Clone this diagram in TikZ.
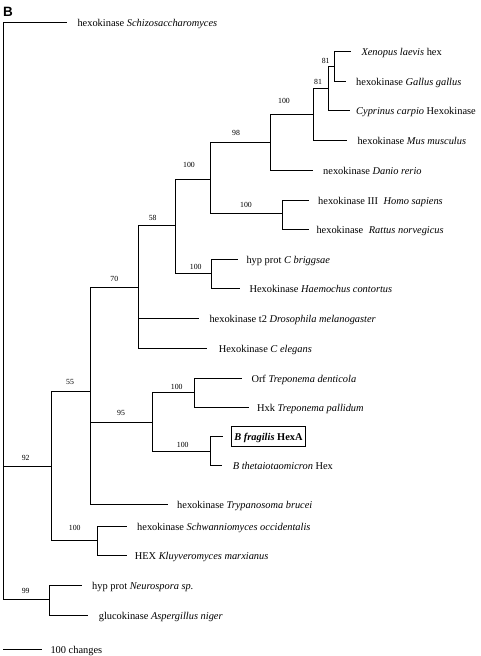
\documentclass[tikz,border=0pt]{standalone}
\usepackage{fontspec}
\setmainfont{Liberation Serif}
\newfontfamily\panelfont{Liberation Sans}
\begin{document}
\begin{tikzpicture}[x=1pt,y=1pt,line width=1pt]
        \tikzstyle{every node}+=[inner sep=0.5pt]
        \tikzstyle{leaf}=[anchor=west, inner sep=0pt, text height=8pt, text depth=0pt, font=\fontsize{10.4}{12}\selectfont]
        \tikzstyle{boot}=[font=\fontsize{7.8}{9}\selectfont]
        \useasboundingbox (0,0) rectangle (480,-656);
        \draw (2.5,-7) node [anchor=north west, inner sep=0pt, font=\panelfont\bfseries\fontsize{13.5}{14}\selectfont] (panel) {B};
        % inner nodes
        \coordinate (root) at (3.3,-466);
        \coordinate (n92) at (51,-466);
        \coordinate (n55) at (90.7,-391.7);
        \coordinate (n70) at (138.3,-287.3);
        \coordinate (n58) at (175,-225.7);
        \coordinate (n100d) at (210.7,-179);
        \coordinate (n98) at (270,-142.7);
        \coordinate (n100m) at (313,-114);
        \coordinate (n81b) at (328,-88);
        \coordinate (n81a) at (334,-66.7);
        \coordinate (n100h) at (282.7,-213.3);
        \coordinate (n100b) at (211.3,-273.3);
        \coordinate (n95) at (152,-422.7);
        \coordinate (n100t) at (194.3,-392.3);
        \coordinate (n100f) at (210.7,-451);
        \coordinate (n100s) at (97.7,-540.7);
        \coordinate (n99) at (49,-599);
        % leaf tips
        \coordinate (schizo) at (67,-22);
        \coordinate (xenopus) at (351,-51.7);
        \coordinate (gallus) at (346,-81);
        \coordinate (cyprinus) at (350,-110.7);
        \coordinate (mus) at (347,-140.7);
        \coordinate (danio) at (313,-170);
        \coordinate (homo) at (309,-200);
        \coordinate (rattus) at (309,-229.3);
        \coordinate (briggsae) at (237.5,-259);
        \coordinate (haemochus) at (240,-288.3);
        \coordinate (drosophila) at (199,-318.3);
        \coordinate (celegans) at (207.3,-348.7);
        \coordinate (orf) at (241.7,-378.3);
        \coordinate (hxk) at (249,-407.3);
        \coordinate (fragilis) at (223,-436.5);
        \coordinate (theta) at (222,-465);
        \coordinate (trypan) at (168.3,-504.3);
        \coordinate (schwann) at (127.3,-526);
        \coordinate (hex) at (127.3,-555.7);
        \coordinate (neuro) at (82.3,-585.3);
        \coordinate (asper) at (88.3,-615.7);
        % branches
        \draw [black] (root) |- (schizo);
        \draw [black] (root) -- (n92);
        \draw [black] (root) |- (n99);
        \draw [black] (n92) |- (n55);
        \draw [black] (n92) |- (n100s);
        \draw [black] (n55) |- (n70);
        \draw [black] (n55) |- (n95);
        \draw [black] (n55) |- (trypan);
        \draw [black] (n70) |- (n58);
        \draw [black] (n70) |- (drosophila);
        \draw [black] (n70) |- (celegans);
        \draw [black] (n58) |- (n100d);
        \draw [black] (n58) |- (n100b);
        \draw [black] (n100d) |- (n98);
        \draw [black] (n100d) |- (n100h);
        \draw [black] (n98) |- (n100m);
        \draw [black] (n98) |- (danio);
        \draw [black] (n100m) |- (n81b);
        \draw [black] (n100m) |- (mus);
        \draw [black] (n81b) |- (n81a);
        \draw [black] (n81b) |- (cyprinus);
        \draw [black] (n81a) |- (xenopus);
        \draw [black] (n81a) |- (gallus);
        \draw [black] (n100h) |- (homo);
        \draw [black] (n100h) |- (rattus);
        \draw [black] (n100b) |- (briggsae);
        \draw [black] (n100b) |- (haemochus);
        \draw [black] (n95) |- (n100t);
        \draw [black] (n95) |- (n100f);
        \draw [black] (n100t) |- (orf);
        \draw [black] (n100t) |- (hxk);
        \draw [black] (n100f) |- (fragilis);
        \draw [black] (n100f) |- (theta);
        \draw [black] (n100s) |- (schwann);
        \draw [black] (n100s) |- (hex);
        \draw [black] (n99) |- (neuro);
        \draw [black] (n99) |- (asper);
        % bootstrap values
        \draw (325.7,-60.7) node [boot] (b81a) {81};
        \draw (318,-82) node [boot] (b81b) {81};
        \draw (284,-101) node [boot] (b100m) {100};
        \draw (236,-133) node [boot] (b98) {98};
        \draw (189,-165) node [boot] (b100d) {100};
        \draw (246,-205) node [boot] (b100h) {100};
        \draw (152.7,-218.3) node [boot] (b58) {58};
        \draw (195.7,-267.3) node [boot] (b100b) {100};
        \draw (114.3,-279.3) node [boot] (b70) {70};
        \draw (70,-381.7) node [boot] (b55) {55};
        \draw (121,-413.3) node [boot] (b95) {95};
        \draw (176.7,-386.5) node [boot] (b100t) {100};
        \draw (182.7,-445.2) node [boot] (b100f) {100};
        \draw (25.7,-457.7) node [boot] (b92) {92};
        \draw (74.7,-528.3) node [boot] (b100s) {100};
        \draw (25.7,-591) node [boot] (b99) {99};
        % taxa
        \draw (77,-22) node [leaf] (tschizo) {hexokinase \textit{Schizosaccharomyces}};
        \draw (361,-51.7) node [leaf] (txenopus) {\textit{Xenopus laevis} hex};
        \draw (355.7,-81) node [leaf] (tgallus) {hexokinase \textit{Gallus gallus}};
        \draw (355.7,-110.7) node [leaf] (tcyprinus) {\textit{Cyprinus carpio} Hexokinase};
        \draw (357,-140.7) node [leaf] (tmus) {hexokinase \textit{Mus musculus}};
        \draw (322.7,-170) node [leaf] (tdanio) {nexokinase \textit{Danio rerio}};
        \draw (317.7,-200) node [leaf] (thomo) {hexokinase III\hspace{3pt} \textit{Homo sapiens}};
        \draw (316,-229.3) node [leaf] (trattus) {hexokinase\hspace{3pt} \textit{Rattus norvegicus}};
        \draw (246,-259) node [leaf] (tbriggsae) {hyp prot \textit{C briggsae}};
        \draw (249,-288.3) node [leaf] (thaemochus) {Hexokinase \textit{Haemochus contortus}};
        \draw (209,-318.3) node [leaf] (tdrosophila) {hexokinase t2 \textit{Drosophila melanogaster}};
        \draw (218.3,-348.7) node [leaf] (tcelegans) {Hexokinase \textit{C elegans}};
        \draw (251,-378.3) node [leaf] (torf) {Orf \textit{Treponema denticola}};
        \draw (256.7,-407.3) node [leaf] (thxk) {Hxk \textit{Treponema pallidum}};
        \draw (231,-436.5) node [leaf, draw, line width=0.8pt, inner xsep=3pt, minimum height=20pt] (tfragilis) {\bfseries\textit{B fragilis} HexA};
        \draw (232.3,-465) node [leaf] (ttheta) {\textit{B thetaiotaomicron} Hex};
        \draw (176.7,-504.3) node [leaf] (ttrypan) {hexokinase \textit{Trypanosoma brucei}};
        \draw (136.7,-526) node [leaf] (tschwann) {hexokinase \textit{Schwanniomyces occidentalis}};
        \draw (134.3,-555.7) node [leaf] (thex) {HEX \textit{Kluyveromyces marxianus}};
        \draw (91.7,-585.3) node [leaf] (tneuro) {hyp prot \textit{Neurospora sp.}};
        \draw (98.3,-615.7) node [leaf] (tasper) {glucokinase \textit{Aspergillus niger}};
        % scale bar
        \coordinate (barl) at (3.3,-649);
        \coordinate (barr) at (41.7,-649);
        \draw [black] (barl) -- (barr);
        \draw (50,-649) node [leaf] (tbar) {100 changes};
\end{tikzpicture}
\end{document}
